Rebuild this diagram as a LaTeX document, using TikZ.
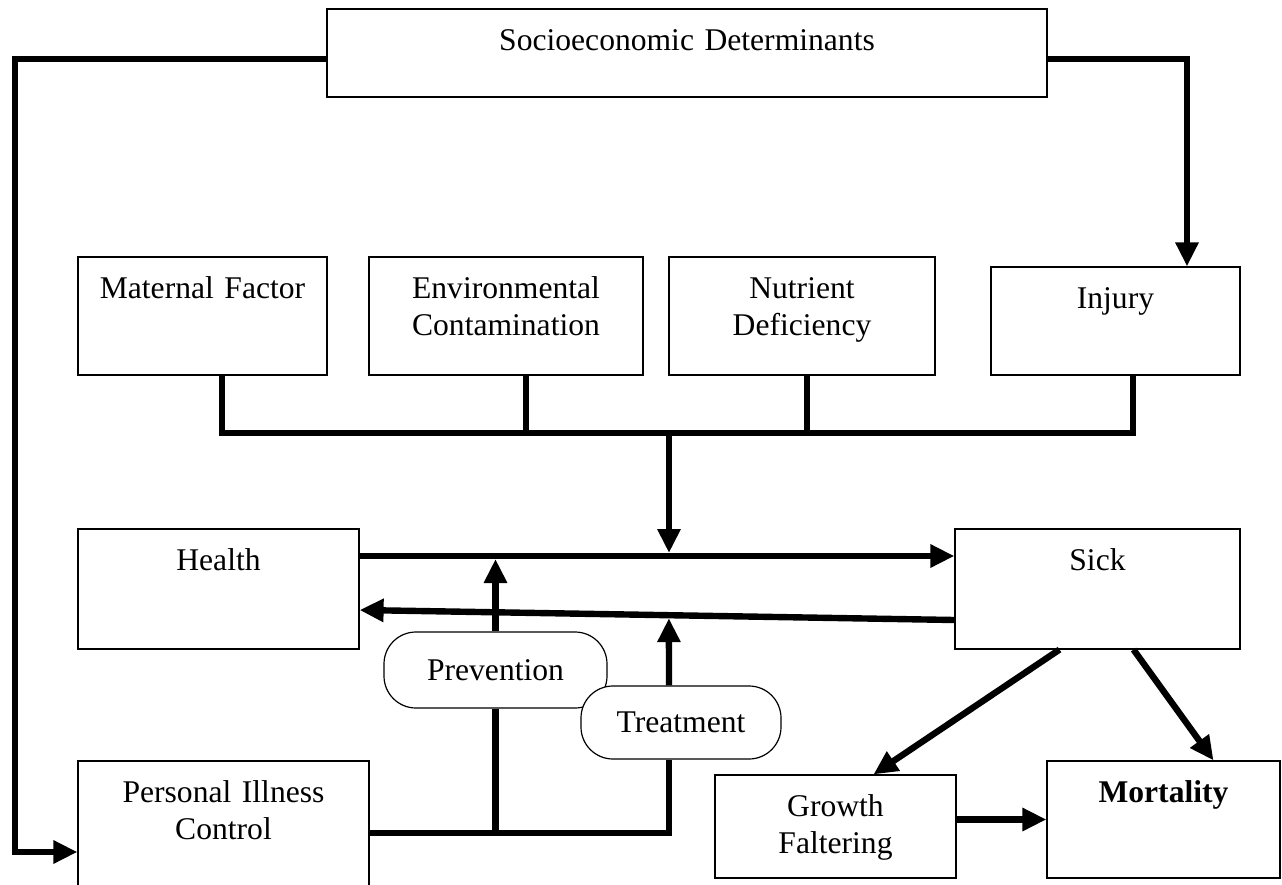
\documentclass[tikz,border=0pt]{standalone}
\usepackage{fontspec}
\setmainfont{Liberation Serif}
\usepackage{tikz}
\usetikzlibrary{arrows.meta,calc}

\begin{document}
\begin{tikzpicture}[x=0.5pt,y=-0.5pt,font=\fontsize{15.8}{18.5}\selectfont,
  box/.style={draw,line width=0.6pt,fill=white,inner sep=0pt,align=center,text height=20.5pt},
  pill/.style={draw,line width=0.6pt,fill=white,rounded corners=16pt,inner sep=0pt,align=center},
  link/.style={line width=3.2pt},
  flow/.style={line width=3.2pt,-{Triangle[length=12pt,width=11pt]}}]
  \useasboundingbox (0,0) rectangle (1282,885);
  \clip (0,0) rectangle (1282,885);
  \node[box,text width=360pt,text depth=23.5pt] (socio) at (687,53) {Socioeconomic Determinants};
  \node[box,text width=124.5pt,text depth=38.5pt] (maternal) at (202.5,316) {Maternal Factor};
  \node[box,text width=137pt,text depth=38.5pt] (enviro) at (506,316) {Environmental\\Contamination};
  \node[box,text width=133pt,text depth=38.5pt] (nutrient) at (802,316) {Nutrient\\Deficiency};
  \node[box,text width=124.5pt,text depth=33.5pt] (injury) at (1115.5,321) {Injury};
  \node[box,text width=140.5pt,text depth=39.5pt] (health) at (218.5,589) {Health};
  \node[box,text width=142.5pt,text depth=39.5pt] (sick) at (1097.5,589) {Sick};
  \node[pill,minimum width=111.5pt,minimum height=38pt] (prevent) at (495.5,670) {Prevention};
  \node[pill,minimum width=100pt,minimum height=36.5pt] (treat) at (681,722.5) {Treatment};
  \node[box,text width=145.5pt,text depth=51.5pt] (personal) at (223.5,833) {Personal Illness\\Control};
  \node[box,text width=120.5pt,text depth=31pt] (growth) at (835.5,826.5) {Growth\\Faltering};
  \node[box,text width=116.5pt,text depth=38pt] (mortal) at (1163.5,819.5) {\textbf{Mortality}};
  \coordinate (busL) at (222,433);
  \coordinate (busE) at (526,433);
  \coordinate (busM) at (669,433);
  \coordinate (busN) at (807,433);
  \coordinate (busR) at (1133,433);
  \coordinate (loopL) at (15,852);
  \coordinate (hs) at ([yshift=16.5pt]health.east);
  \coordinate (hl) at ([yshift=-10.5pt]health.east);
  \coordinate (sl) at ([yshift=-15.5pt]sick.west);
  \draw[flow] ([yshift=-3pt]socio.west) -| (loopL) -- (loopL -| personal.west);
  \draw[flow] ([yshift=-3pt]socio.east) -| ([xshift=35.75pt]injury.north);
  \draw[link] (maternal.south -| busL) -- (busL) -- (busR) -- (injury.south -| busR);
  \draw[link] (enviro.south -| busE) -- (busE);
  \draw[link] (nutrient.south -| busN) -- (busN);
  \draw[flow,shorten >=1.5pt] (busM) -- (busM |- hs);
  \draw[flow] (hs) -- (hs -| sick.west);
  \draw[flow] (sl) -- (hl);
  \draw[link] (personal.east) -| (treat.south -| busM);
  \draw[link] (prevent.south) -- (prevent.south |- personal.east);
  \draw[flow,shorten >=1.5pt] (prevent.north) -- (prevent.north |- hs);
  \draw[flow,shorten >=1.5pt] (treat.north -| busM) -- ($(hl)!0.52!(sl)$);
  \draw[flow] ([xshift=-19pt]sick.south) -- ([xshift=19pt]growth.north);
  \draw[flow] ([xshift=18pt]sick.south) -- ([xshift=25pt]mortal.north);
  \draw[flow] ([yshift=3.5pt]growth.east) -- ([yshift=3.5pt]growth.east -| mortal.west);
\end{tikzpicture}
\end{document}
